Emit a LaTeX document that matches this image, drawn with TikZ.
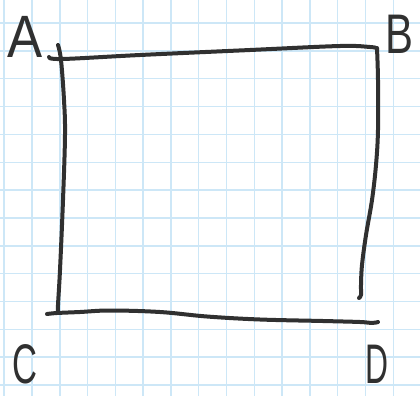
\documentclass[tikz,border=0pt]{standalone}
\usepackage{fontspec}
\setmainfont{Liberation Sans}
\definecolor{gridblue}{RGB}{205,231,247}
\definecolor{pen}{RGB}{48,48,48}
\tikzset{
  gridline/.style={draw=gridblue, line width=1.5bp},
  penline/.style={draw=pen, line width=4bp, line cap=round, line join=round},
  letter/.style={text=pen, inner sep=0pt, anchor=base, font=\fontsize{60}{60}\selectfont}
}
\begin{document}
\begin{tikzpicture}[x=1bp, y=-1bp]
  \fill[white] (0,0) rectangle (420,396);
  \useasboundingbox (0,0) rectangle (420,396);
  % graph paper
  \foreach \k in {0,...,14} {
    \draw[gridline] ({4.2+27.79*\k},0) -- ({4.2+27.79*\k},396);
  }
  \foreach \k in {0,...,13} {
    \draw[gridline] (0,{23+27.85*\k}) -- (420,{23+27.85*\k});
  }
  % corners
  \coordinate (ca) at (58,45);
  \coordinate (cb) at (376,48);
  \coordinate (cc) at (47,314);
  \coordinate (cd) at (378,322);
  % sides
  \draw[penline] plot[smooth, tension=0.6] coordinates
    {(49,57) (62,59) (140,55) (250,50) (340,46) (370,47) (cb)};
  \draw[penline] plot[smooth, tension=0.6] coordinates
    {(ca) (61,60) (64,100) (65,135) (63,200) (60,270) (58,305) (58,313)};
  \draw[penline] plot[smooth, tension=0.6] coordinates
    {(377,48) (378,80) (378,130) (376,165) (372,200) (366,235) (362,265) (361,285) (361,295) (359,298)};
  \draw[penline] plot[smooth, tension=0.6] coordinates
    {(cc) (57,313) (80,312) (110,310.5) (160,312) (207,316.5) (260,319.5) (323,321) (360,322) (372,323) (cd)};
  % labels
  \node[letter, xscale=0.88] (A) at (25,57) {A};
  \node[letter, xscale=0.75, font=\fontsize{56}{56}\selectfont] (B) at (399,53) {B};
  \node[letter, xscale=0.62, font=\fontsize{56}{56}\selectfont] (C) at (25,383) {C};
  \node[letter, xscale=0.57, font=\fontsize{56}{56}\selectfont] (D) at (377,383) {D};
\end{tikzpicture}
\end{document}
